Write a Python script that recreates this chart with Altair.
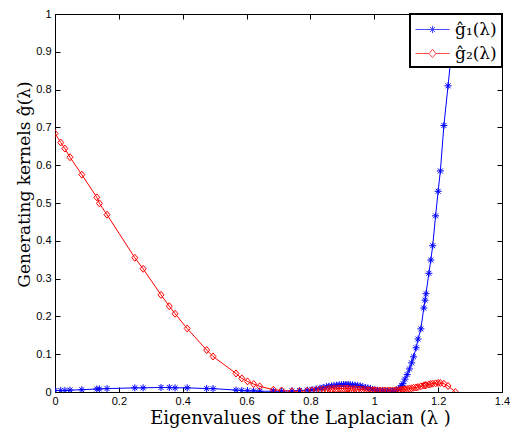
import altair as alt
import pandas as pd

# eigenvalues of the Laplacian (shared by both kernels)
lam = [0, 0.018, 0.031, 0.047, 0.084, 0.131, 0.139, 0.163, 0.250, 0.276, 0.332, 0.358, 0.376,
       0.414, 0.475, 0.495, 0.567, 0.585, 0.603, 0.622, 0.641, 0.684, 0.710, 0.742, 0.766, 0.790,
       0.805, 0.818, 0.830, 0.840, 0.850, 0.858, 0.866, 0.874, 0.882, 0.890,
       0.897, 0.904, 0.911, 0.918, 0.925, 0.932, 0.940, 0.948, 0.956, 0.964,
       0.972, 0.980, 0.988, 0.995, 1.002, 1.010, 1.018, 1.026, 1.034, 1.042,
       1.050, 1.057, 1.064, 1.070, 1.076, 1.081, 1.086, 1.090, 1.096, 1.103,
       1.110, 1.117, 1.123, 1.131, 1.137, 1.146, 1.155, 1.159, 1.162, 1.171,
       1.177, 1.183, 1.192, 1.200, 1.207, 1.218, 1.231, 1.254]

g1 = [0.004, 0.004, 0.004, 0.005, 0.006, 0.008, 0.008, 0.009, 0.011, 0.011, 0.012, 0.012, 0.011,
      0.011, 0.009, 0.009, 0.005, 0.004, 0.003, 0.003, 0.002, 0.002, 0.002, 0.003, 0.004, 0.005,
      0.006, 0.008, 0.010, 0.012, 0.014, 0.015, 0.016, 0.017, 0.018, 0.019,
      0.019, 0.020, 0.020, 0.020, 0.019, 0.019, 0.018, 0.017, 0.016, 0.014,
      0.012, 0.011, 0.009, 0.007, 0.006, 0.005, 0.004, 0.003, 0.002, 0.002,
      0.002, 0.002, 0.003, 0.005, 0.008, 0.012, 0.016, 0.022, 0.034, 0.046,
      0.061, 0.077, 0.093, 0.117, 0.140, 0.167, 0.222, 0.243, 0.260, 0.314,
      0.349, 0.387, 0.466, 0.531, 0.585, 0.705, 0.810, 1.000]

g2 = [0.684, 0.660, 0.644, 0.621, 0.575, 0.515, 0.499, 0.469, 0.355, 0.326, 0.257, 0.227, 0.207,
      0.168, 0.111, 0.094, 0.049, 0.036, 0.028, 0.021, 0.015, 0.006, 0.004, 0.002, 0.002, 0.003,
      0.004, 0.005, 0.006, 0.007, 0.007, 0.008, 0.008, 0.009, 0.009, 0.009,
      0.009, 0.009, 0.009, 0.009, 0.008, 0.008, 0.008, 0.007, 0.007, 0.006,
      0.006, 0.005, 0.005, 0.005, 0.004, 0.004, 0.004, 0.004, 0.004, 0.004,
      0.004, 0.004, 0.004, 0.005, 0.005, 0.005, 0.006, 0.006, 0.007, 0.008,
      0.009, 0.010, 0.011, 0.012, 0.013, 0.015, 0.017, 0.018, 0.018, 0.020,
      0.021, 0.022, 0.023, 0.024, 0.024, 0.022, 0.016, 0.000]

series_keys = ["g1", "g2"]
series_labels = ["ĝ₁(λ)", "ĝ₂(λ)"]
series_colors = ["#0000ff", "#ff0000"]
x_ticks = [0, 0.2, 0.4, 0.6, 0.8, 1.0, 1.2, 1.4]
y_ticks = [0, 0.1, 0.2, 0.3, 0.4, 0.5, 0.6, 0.7, 0.8, 0.9, 1.0]
x_title = "Eigenvalues of the Laplacian (λ )"
y_title = "Generating kernels ĝ(λ)"

df = pd.DataFrame({
    "lam": lam + lam,
    "val": g1 + g2,
    "series": [series_keys[0]] * len(lam) + [series_keys[1]] * len(lam),
})

# marker shapes (asterisk, hollow diamond)
STAR = "M-1,0L1,0M0,-1L0,1M-0.7,-0.7L0.7,0.7M-0.7,0.7L0.7,-0.7"
DIAM = "M0,-1L0.85,0L0,1L-0.85,0Z"
# legend glyphs: a line segment with the marker in its middle
LEG_STAR = "M-1,0L2.4,0M0.7,-0.36L0.7,0.36M0.45,-0.25L0.95,0.25M0.45,0.25L0.95,-0.25"
LEG_DIAM = "M-1,0L0.36,0M1.04,0L2.4,0M0.7,-0.42L1.04,0L0.7,0.42L0.36,0Z"

xs = alt.Scale(domain=[0, 1.4], nice=False, zero=False)
ys = alt.Scale(domain=[0, 1], nice=False, zero=False)

TICK_FONT = "Liberation Sans"
SERIF = "DejaVu Serif"

color_scale = alt.Scale(domain=series_keys, range=series_colors)

lines = alt.Chart(df).mark_line(strokeWidth=1, clip=True).encode(
    x=alt.X("lam:Q", scale=xs, axis=alt.Axis(
        orient="bottom", values=x_ticks, format="~g", offset=-5, domain=False, grid=False,
        tickSize=5, tickColor="black", tickWidth=1, labelFont=TICK_FONT, labelFontSize=11,
        labelColor="black", labelPadding=3, labelFlush=False, labelOverlap=False,
        title=x_title, titleFont=SERIF, titleFontSize=18, titleFontWeight="normal",
        titleColor="black", titlePadding=3, titleX=245)),
    y=alt.Y("val:Q", scale=ys, axis=alt.Axis(
        orient="left", values=y_ticks, format="~g", offset=-5, domain=False, grid=False,
        tickSize=5, tickColor="black", tickWidth=1, labelFont=TICK_FONT, labelFontSize=11,
        labelColor="black", labelPadding=4, labelFlush=False, labelOverlap=False,
        title=y_title, titleFont=SERIF, titleFontSize=17, titleFontWeight="normal",
        titleColor="black", titlePadding=2, titleY=170)),
    color=alt.Color("series:N", scale=color_scale, legend=None),
    detail="series:N",
)

points = alt.Chart(df).mark_point(filled=False, size=49, strokeWidth=1, opacity=1, clip=True).encode(
    x=alt.X("lam:Q", scale=xs, axis=alt.Axis(
        orient="top", values=x_ticks, offset=-5, domain=False, grid=False, labels=False,
        tickSize=5, tickColor="black", tickWidth=1, title=None)),
    y=alt.Y("val:Q", scale=ys, axis=alt.Axis(
        orient="right", values=y_ticks, offset=-5, domain=False, grid=False, labels=False,
        tickSize=5, tickColor="black", tickWidth=1, title=None)),
    color=alt.Color("series:N", scale=color_scale, legend=None),
    shape=alt.Shape("series:N", scale=alt.Scale(domain=series_keys, range=[STAR, DIAM]), legend=None),
)

label_expr = ("datum.value == '%s' ? '%s' : '%s'" % (series_keys[0], series_labels[0], series_labels[1]))
leg = alt.Legend(
    title=None, orient="top-right", offset=0, strokeColor="black", fillColor="white",
    padding=5, labelFont=SERIF, labelFontSize=17, labelColor="black",
    labelExpr=label_expr, symbolSize=400, labelOffset=19, rowPadding=5,
    symbolStrokeWidth=1)

legend_layer = alt.Chart(df).transform_filter("false").mark_point(
    filled=False, size=400, strokeWidth=1).encode(
    x=alt.X("lam:Q", scale=xs, axis=None),
    y=alt.Y("val:Q", scale=ys, axis=None),
    stroke=alt.Stroke("series:N", scale=alt.Scale(domain=series_keys, range=series_colors), legend=leg),
    shape=alt.Shape("series:N", scale=alt.Scale(domain=series_keys, range=[LEG_STAR, LEG_DIAM]), legend=leg),
)

chart = alt.layer(lines, points, legend_layer).resolve_axis(
    x="independent", y="independent").resolve_scale(
    shape="independent", stroke="independent").properties(
    width=447, height=378,
    autosize=alt.AutoSizeParams(type="none"),
    padding={"left": 47, "top": 6, "right": 8, "bottom": 36},
    background="white",
).configure_view(stroke="black", strokeWidth=1).configure_legend(strokeWidth=2)

chart.save("out.html", embed_options={"renderer": "svg", "actions": False})
